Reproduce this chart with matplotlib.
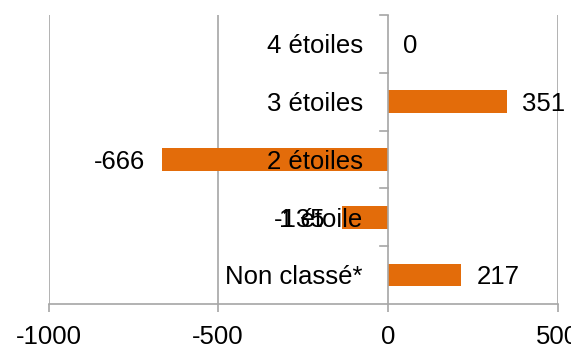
import matplotlib
matplotlib.use("Agg")
import matplotlib.pyplot as plt

categories = ["4 étoiles", "3 étoiles", "2 étoiles", "1 étoile", "Non classé*"]
values = [0, 351, -666, -135, 217]
xticks = [-1000, -500, 0, 500]

plt.rcParams['font.family'] = ['Liberation Sans', 'DejaVu Sans']
FS = 18.5
orange = "#E36C0A"
gray = "#A6A6A6"

fig = plt.figure(figsize=(5.71, 3.49), dpi=100)
ax = fig.add_axes([48.5/571, 1 - 304/349, (557.5-48.5)/571, (304-15)/349])

ypos = list(range(len(categories)))
ax.barh(ypos, values, height=0.39, color=orange, zorder=3)
ax.set_ylim(len(categories) - 0.5, -0.5)
ax.set_xlim(-1000, 500)

ax.set_xticks(xticks)
ax.set_xticklabels([str(t) for t in xticks], fontsize=FS)
ax.tick_params(axis='x', length=6, color=gray, width=1.2, pad=9)
ax.set_yticks([])
for x in xticks:
    if x != 0:
        ax.axvline(x, color=gray, lw=1.2, zorder=1)
ax.axvline(0, color=gray, lw=1.2, zorder=4)
for b in [-0.5, 0.5, 1.5, 2.5, 3.5]:
    ax.plot([-24, 0], [b, b], color=gray, lw=1.2, zorder=4, clip_on=False)

for s in ['top', 'right', 'left']:
    ax.spines[s].set_visible(False)
ax.spines['bottom'].set_color(gray)
ax.spines['bottom'].set_linewidth(1.2)

for y, c in zip(ypos, categories):
    ax.text(-74, y + 0.04, c, ha='right', va='center', fontsize=FS, zorder=5)

for y, v in zip(ypos, values):
    if v >= 0:
        ax.text(v + 45, y + 0.04, str(v), ha='left', va='center', fontsize=FS, zorder=5)
    else:
        ax.text(v - 50, y + 0.04, str(v), ha='right', va='center', fontsize=FS, zorder=5)

fig.savefig("out.png", dpi=100)
